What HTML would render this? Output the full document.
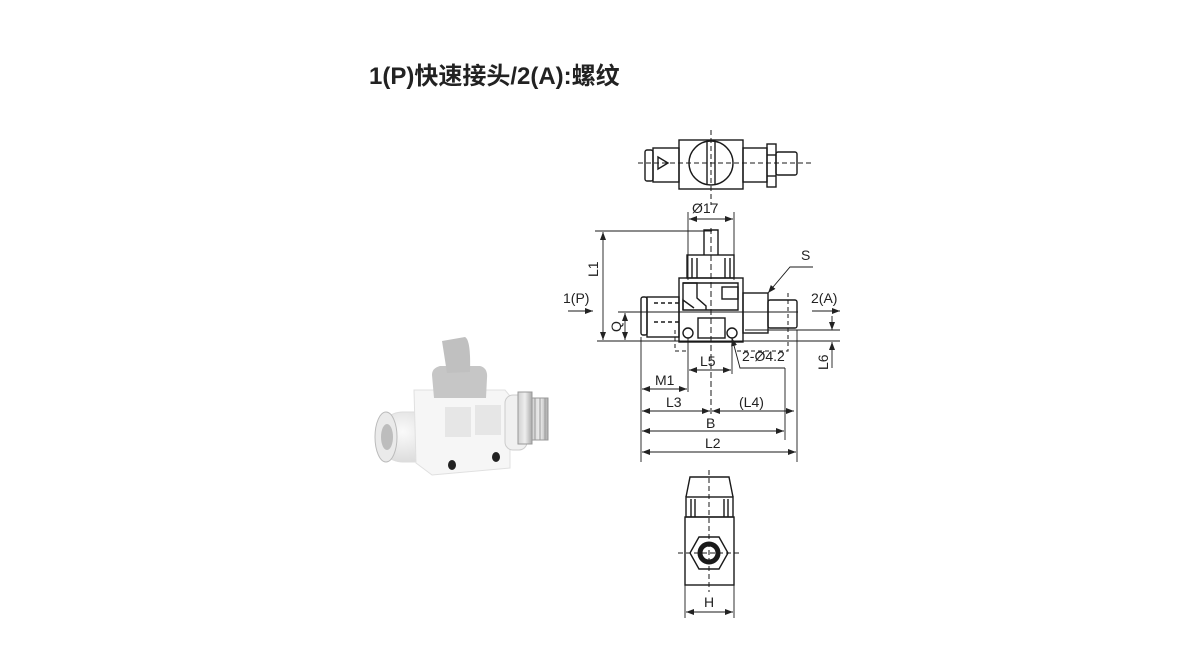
<!DOCTYPE html>
<html><head><meta charset="utf-8"><style>
html,body{margin:0;padding:0;background:#fff;}
svg{display:block}
text{font-family:"Liberation Sans","Noto Sans CJK SC",sans-serif;fill:#222}
</style></head><body>
<svg width="1200" height="650" viewBox="0 0 1200 650" xmlns="http://www.w3.org/2000/svg">
<defs>
<marker id="a" markerWidth="8" markerHeight="6" refX="8" refY="3" orient="auto-start-reverse" markerUnits="userSpaceOnUse"><path d="M0,0 L8,3 L0,6 z" fill="#222"/></marker>
<radialGradient id="g1" cx="0.4" cy="0.4" r="0.7"><stop offset="0" stop-color="#fafafa"/><stop offset="1" stop-color="#d8d8d8"/></radialGradient>
<linearGradient id="g2" x1="0" y1="0" x2="1" y2="0"><stop offset="0" stop-color="#d0d0d0"/><stop offset="0.5" stop-color="#eee"/><stop offset="1" stop-color="#aaa"/></linearGradient>
</defs>
<text x="369" y="84" font-size="24" font-weight="bold" style="font-family:'Liberation Sans','Noto Sans CJK SC',sans-serif">1(P)快速接头/2(A):螺纹</text>

<!-- photo -->
<g>
<rect x="378" y="412" width="62" height="50" rx="25" fill="url(#g1)" stroke="#ddd"/>
<ellipse cx="386" cy="437" rx="11" ry="25" fill="#eaeaea" stroke="#bbb"/>
<ellipse cx="387" cy="437" rx="6" ry="13" fill="#bdbdbd"/>
<path d="M414,390 L505,390 L510,396 L510,468 L432,475 L416,463 Z" fill="#f6f6f6" stroke="#e0e0e0"/>
<rect x="445" y="407" width="26" height="30" fill="#e6e6e6"/>
<rect x="475" y="405" width="26" height="30" fill="#e6e6e6"/>
<rect x="505" y="395" width="22" height="55" rx="8" fill="#f0f0f0" stroke="#ccc"/>
<rect x="518" y="392" width="14" height="52" fill="url(#g2)" stroke="#999"/>
<rect x="532" y="398" width="16" height="42" fill="url(#g2)" stroke="#999"/>
<line x1="535" y1="398" x2="535" y2="440" stroke="#999"/><line x1="540" y1="398" x2="540" y2="440" stroke="#999"/><line x1="545" y1="398" x2="545" y2="440" stroke="#999"/>
<ellipse cx="452" cy="465" rx="4" ry="5" fill="#222"/>
<ellipse cx="496" cy="457" rx="4" ry="5" fill="#222"/>
<path d="M432,375 Q432,368 440,366 L480,366 Q488,368 487,378 L486,398 L434,398 Z" fill="#c6c6c6"/>
<path d="M442,341 L465,337 Q471,340 470,372 L447,373 Z" fill="#c0c0c0"/>
</g>

<g stroke="#1a1a1a" stroke-width="1.4" fill="none">
<!-- top view -->
<rect x="679" y="140" width="64" height="49"/>
<circle cx="711" cy="163" r="22"/>
<line x1="707" y1="142" x2="707" y2="185"/><line x1="715" y1="142" x2="715" y2="185"/>
<rect x="653" y="148" width="26" height="34"/>
<rect x="645" y="150" width="8" height="31" rx="2"/>
<path d="M658,157 L668,163 L658,169 Z"/>
<rect x="743" y="148" width="24" height="34"/>
<rect x="767" y="144" width="9" height="43"/>
<line x1="767" y1="155" x2="776" y2="155"/><line x1="767" y1="176" x2="776" y2="176"/>
<rect x="776" y="152" width="21" height="23" rx="2"/>
<line x1="638" y1="163" x2="812" y2="163" stroke-dasharray="5,3" stroke-width="1"/>
<line x1="711" y1="130" x2="711" y2="205" stroke-dasharray="5,3" stroke-width="1"/>

<!-- front view -->
<path d="M704,255 L704,230 L718,230 L718,255"/>
<rect x="687" y="255" width="47" height="23"/>
<line x1="692" y1="258" x2="692" y2="278"/><line x1="697" y1="258" x2="697" y2="278"/><line x1="725" y1="258" x2="725" y2="278"/><line x1="730" y1="258" x2="730" y2="278"/>
<rect x="679" y="278" width="64" height="64"/>
<path d="M683,283 L738,283 L738,310 L683,310 Z"/>
<path d="M683,283 L697,283 L697,298 L706,306 L706,310 M683,310 L683,300 L694,308"/>
<rect x="722" y="287" width="16" height="12"/>
<rect x="698" y="318" width="27" height="20"/>
<rect x="647" y="297" width="32" height="40"/>
<rect x="641" y="297" width="6" height="38" rx="2"/>
<line x1="654" y1="303" x2="679" y2="303" stroke-dasharray="4,3"/>
<line x1="654" y1="322" x2="679" y2="322" stroke-dasharray="4,3"/>
<rect x="743" y="293" width="25" height="40"/>
<rect x="768" y="300" width="29" height="28" rx="2"/>
<circle cx="688" cy="333" r="5"/><circle cx="732" cy="333" r="5"/>
<line x1="711" y1="228" x2="711" y2="415" stroke-dasharray="6,3" stroke-width="1"/>
<path d="M675,330 L675,351 L688,351 M737,351 L788,351 L788,290" stroke-dasharray="4,3" stroke-width="1"/>

<!-- dims -->
<g stroke-width="0.9">
<line x1="688" y1="212" x2="688" y2="280"/><line x1="734" y1="212" x2="734" y2="280"/>
<line x1="689" y1="219" x2="733" y2="219" marker-start="url(#a)" marker-end="url(#a)"/>
<line x1="595" y1="231" x2="712" y2="231"/>
<line x1="597" y1="341" x2="840" y2="341"/>
<line x1="603" y1="232" x2="603" y2="340" marker-start="url(#a)" marker-end="url(#a)"/>
<line x1="618" y1="312" x2="798" y2="312"/>
<line x1="625" y1="313" x2="625" y2="340" marker-start="url(#a)" marker-end="url(#a)"/>
<line x1="568" y1="311" x2="593" y2="311" marker-end="url(#a)"/>
<line x1="812" y1="311" x2="840" y2="311" marker-end="url(#a)"/>
<line x1="745" y1="330" x2="840" y2="330"/>
<line x1="832" y1="316" x2="832" y2="330" marker-end="url(#a)"/>
<line x1="832" y1="368" x2="832" y2="342" marker-end="url(#a)"/>
<line x1="688" y1="338" x2="688" y2="392"/><line x1="732" y1="338" x2="732" y2="374"/>
<line x1="689" y1="370" x2="731" y2="370" marker-start="url(#a)" marker-end="url(#a)"/>
<path d="M785,368 L740,368 L732,338" marker-end="url(#a)"/>
<line x1="641" y1="337" x2="641" y2="462"/>
<line x1="785" y1="368" x2="785" y2="440"/>
<line x1="797" y1="330" x2="797" y2="462"/>
<line x1="642" y1="389" x2="687" y2="389" marker-start="url(#a)" marker-end="url(#a)"/>
<line x1="642" y1="411" x2="710" y2="411" marker-start="url(#a)" marker-end="url(#a)"/>
<line x1="712" y1="411" x2="794" y2="411" marker-start="url(#a)" marker-end="url(#a)"/>
<line x1="642" y1="431" x2="784" y2="431" marker-start="url(#a)" marker-end="url(#a)"/>
<line x1="642" y1="452" x2="796" y2="452" marker-start="url(#a)" marker-end="url(#a)"/>
<path d="M813,267 L790,267 L768,293" marker-end="url(#a)"/>
</g>

<!-- bottom view -->
<path d="M686,497 L690,477 L729,477 L733,497"/>
<rect x="686" y="497" width="47" height="20"/>
<line x1="691" y1="499" x2="691" y2="517"/><line x1="695" y1="499" x2="695" y2="517"/><line x1="724" y1="499" x2="724" y2="517"/><line x1="728" y1="499" x2="728" y2="517"/>
<rect x="685" y="517" width="49" height="68"/>
<path d="M690,553 L699,537 L719,537 L728,553 L719,569 L699,569 Z"/>
<circle cx="709" cy="553" r="9" stroke-width="5"/>
<line x1="709" y1="470" x2="709" y2="592" stroke-dasharray="5,3" stroke-width="1"/>
<line x1="678" y1="553" x2="740" y2="553" stroke-dasharray="5,3" stroke-width="1"/>
<line x1="685" y1="585" x2="685" y2="618" stroke-width="0.9"/><line x1="734" y1="585" x2="734" y2="618" stroke-width="0.9"/>
<line x1="686" y1="612" x2="733" y2="612" marker-start="url(#a)" marker-end="url(#a)" stroke-width="0.9"/>
</g>
<g font-size="14">
<text x="692" y="213">Ø17</text>
<text x="563" y="303">1(P)</text>
<text x="811" y="303">2(A)</text>
<text x="801" y="260">S</text>
<text x="700" y="366">L5</text>
<text x="742" y="361">2-Ø4.2</text>
<text x="655" y="385">M1</text>
<text x="666" y="407">L3</text>
<text x="739" y="407">(L4)</text>
<text x="706" y="428">B</text>
<text x="705" y="448">L2</text>
<text x="704" y="607">H</text>
<text transform="translate(598,277) rotate(-90)">L1</text>
<text transform="translate(621,332) rotate(-90)">Q</text>
<text transform="translate(828,370) rotate(-90)">L6</text>
</g>
</svg>
</body></html>
